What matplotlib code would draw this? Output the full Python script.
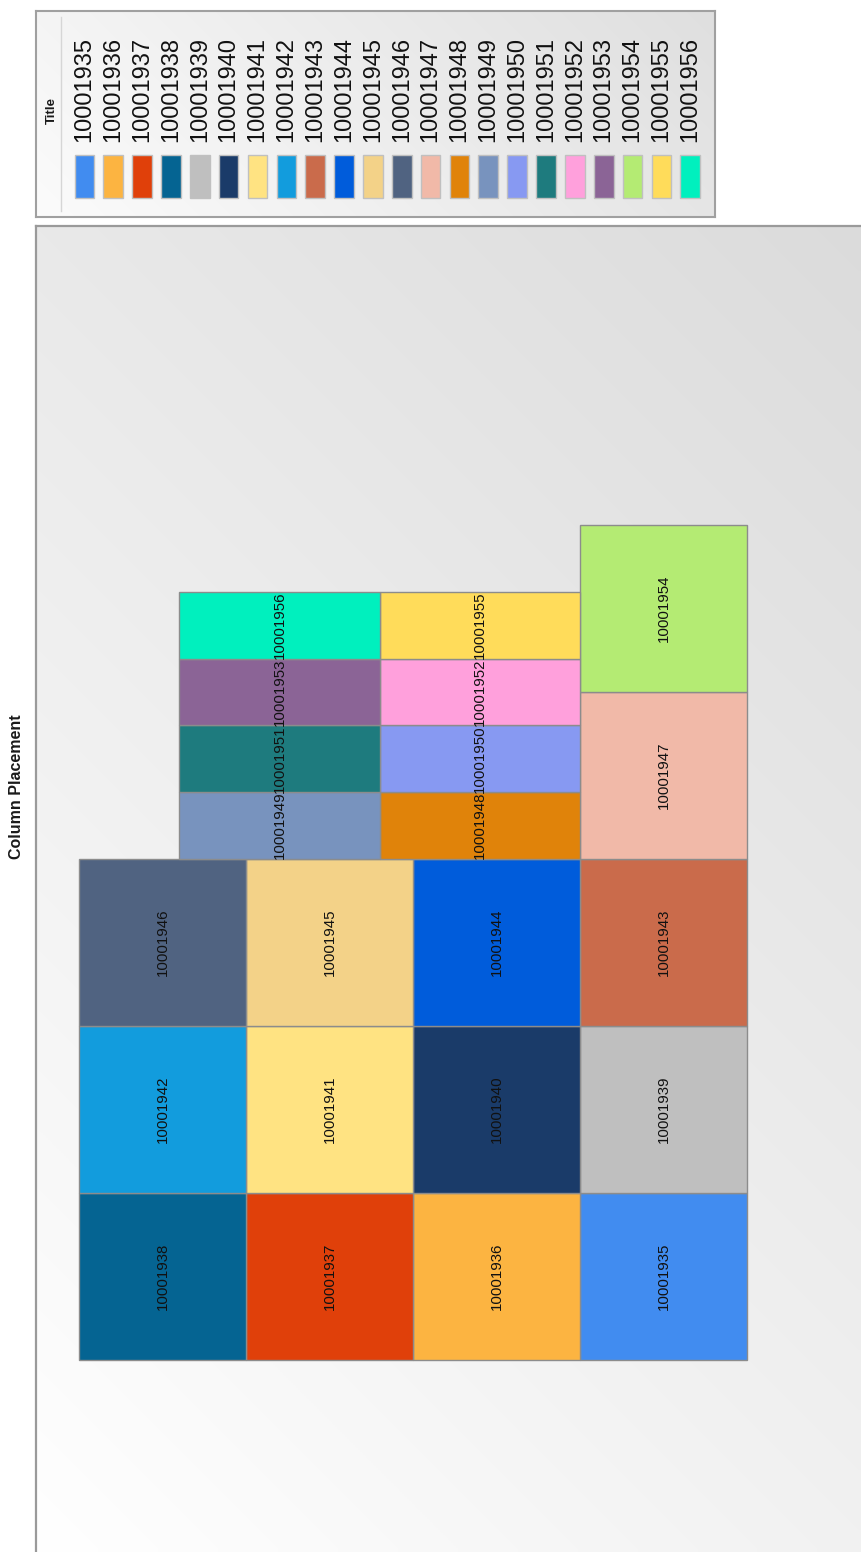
import numpy as np
import matplotlib.pyplot as plt
from matplotlib.patches import Rectangle
from matplotlib.transforms import blended_transform_factory

plt.rcParams['font.family'] = ['Liberation Sans', 'DejaVu Sans']

# series ids and their palette colours
ids = ['10001935', '10001936', '10001937', '10001938', '10001939', '10001940',
       '10001941', '10001942', '10001943', '10001944', '10001945', '10001946',
       '10001947', '10001948', '10001949', '10001950', '10001951', '10001952',
       '10001953', '10001954', '10001955', '10001956']
colors = ['#418CF0', '#FCB441', '#E0400A', '#056492', '#BFBFBF', '#1A3B69',
          '#FFE382', '#129CDD', '#CA6B4B', '#005CDB', '#F3D288', '#506381',
          '#F1B9A8', '#E0830A', '#7893BE', '#8799F2', '#1E7B7E', '#FFA0DC',
          '#8B6496', '#B4EB73', '#FFDC5A', '#00F0BE']

# full-size cells: column along the category axis, row within the stack
big_ids = ['10001935', '10001936', '10001937', '10001938',
           '10001939', '10001940', '10001941', '10001942',
           '10001943', '10001944', '10001945', '10001946',
           '10001947', '10001954']
big_col = [0, 0, 0, 0, 1, 1, 1, 1, 2, 2, 2, 2, 3, 4]
big_row = [0, 1, 2, 3, 0, 1, 2, 3, 0, 1, 2, 3, 0, 0]

# narrow cells placed side by side above the first row of columns 3-4
small_ids = ['10001948', '10001949', '10001950', '10001951',
             '10001952', '10001953', '10001955', '10001956']
small_slot = [0, 0, 1, 1, 2, 2, 3, 3]
small_lane = [0, 1, 0, 1, 0, 1, 0, 1]

color_of = dict(zip(ids, colors))

W, H = 861, 1552
fig = plt.figure(figsize=(W / 100, H / 100), dpi=100)


def gradient(ax, lo, hi):
    # diagonal shading, dark at top-right, light at bottom-left
    pos = ax.get_position()
    w, h = pos.width * W, pos.height * H
    xx, yy = np.meshgrid(np.linspace(0, 1, 200), np.linspace(0, 1, 200))
    t = (xx * w + yy * h) / (w + h)
    img = lo + (hi - lo) * t
    rgb = np.dstack([img, img, img])
    ax.imshow(rgb, extent=(0, 1, 0, 1), transform=ax.transAxes,
              origin='lower', aspect='auto', zorder=0, interpolation='bilinear')


# main plot panel
ax = fig.add_axes([36 / W, 0, (W - 36) / W, (H - 226) / H])
gradient(ax, 1.0, 0.86)
ax.set_xlim(4.2575, -0.6826)
ax.set_ylim(-1.1497, 6.790)
ax.set_xticks([])
ax.set_yticks([])
for side in ['right', 'bottom']:
    ax.spines[side].set_visible(False)
for side in ['left', 'top']:
    ax.spines[side].set_color('#9a9a9a')
    ax.spines[side].set_linewidth(1.6)

edge = '#8c8c8c'
for k, c, r in zip(big_ids, big_col, big_row):
    ax.add_patch(Rectangle((r, c), 1, 1, facecolor=color_of[k],
                           edgecolor=edge, lw=1.0, zorder=2))
    ax.text(r + 0.5, c + 0.5, k, rotation=90, ha='center', va='center',
            fontsize=10.8, color='#111111', zorder=3)

slot_h, lane_w = 0.4, 1.2
for k, s, l in zip(small_ids, small_slot, small_lane):
    x0 = 1 + l * lane_w
    y0 = 3 + s * slot_h
    ax.add_patch(Rectangle((x0, y0), lane_w, slot_h, facecolor=color_of[k],
                           edgecolor=edge, lw=1.0, zorder=2))
    ax.text(x0 + lane_w / 2, y0 + slot_h / 2, k, rotation=90, ha='center',
            va='center', fontsize=10.8, color='#111111', zorder=3)

fig.text(17 / W, 1 - 787 / H, 'Column Placement', rotation=90, ha='center',
         va='center', fontsize=11.5, fontweight='bold', color='#1a1a1a')

# legend box
lg = fig.add_axes([36 / W, 1 - 217 / H, 679 / W, 206 / H])
gradient(lg, 0.985, 0.875)
lg.set_xlim((36 - 84.4) / 28.85, (715 - 84.4) / 28.85)
lg.set_ylim(0, 1)
lg.set_xticks([])
lg.set_yticks([])
for side in lg.spines.values():
    side.set_color('#a0a0a0')
    side.set_linewidth(1.5)

tr = blended_transform_factory(lg.transData, lg.transAxes)
for i, (k, c) in enumerate(zip(ids, colors)):
    lg.add_patch(Rectangle((i - 0.34, 1 - 198 / 206 + 11 / 206), 0.68, 43 / 206,
                           transform=tr, facecolor=c, edgecolor='#c0c0c0',
                           lw=1.0, zorder=2))
    lg.text(i, (217 - 142) / 206, k, rotation=90, ha='center', va='bottom',
            fontsize=17, transform=tr, color='#111111', zorder=3)

lg.plot([(61 - 84.4) / 28.85] * 2, [0.03, 0.97], color='#d6d6d6', lw=1.0,
        transform=tr, zorder=1)
lg.text((52 - 84.4) / 28.85, (217 - 110) / 206, 'Title', rotation=90,
        ha='center', va='center', fontsize=9.5, fontweight='bold',
        transform=tr, color='#1a1a1a')

fig.savefig('out.png', dpi=100)
